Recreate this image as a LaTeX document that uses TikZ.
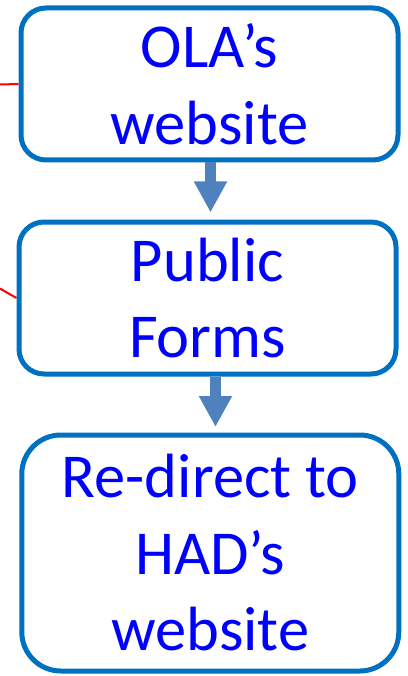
\documentclass[tikz,border=0pt]{standalone}
\usepackage{fontspec}
\setmainfont{Carlito}
\usetikzlibrary{arrows.meta}
\definecolor{boxblue}{HTML}{0070C0}
\definecolor{arrowblue}{HTML}{4F81BD}
\definecolor{textblue}{HTML}{0000FF}

\begin{document}
\begin{tikzpicture}[x=1pt,y=-1pt,
    stage/.style={draw=boxblue,line width=5pt,rounded corners=25pt,text=textblue,align=center,
      minimum width=377pt,minimum height=152pt,inner sep=0pt,font=\fontsize{62.5}{76.5}\selectfont},
    flow/.style={arrowblue,line width=11pt,-{Triangle[length=31pt,width=31pt]}},
    link/.style={red,line width=2pt}]
    \useasboundingbox (0,0) rectangle (407,676);
    \node[stage] (ola) at (209.5,84) {OLA’s\\website};
    \node[stage] (forms) at (207.5,298) {Public\\Forms};
    \node[stage,minimum height=236pt,rounded corners=39pt] (had) at (210.3,553) {Re-direct to\\HAD’s\\website};
    \draw[flow] ([xshift=1pt]ola.south) -- ([shift={(1,-7)}]ola.south |- forms.north);
    \draw[flow] ([xshift=8pt]forms.south) -- ([shift={(8,-5.5)}]forms.south |- had.north);
    % red lines coming in from the left
    \coordinate (olain) at (0,84.5);
    \coordinate (formsin) at (0,288.5);
    \draw[link] (olain) -- (ola.west);
    \draw[link] (formsin) -- (forms.west);
\end{tikzpicture}
\end{document}
